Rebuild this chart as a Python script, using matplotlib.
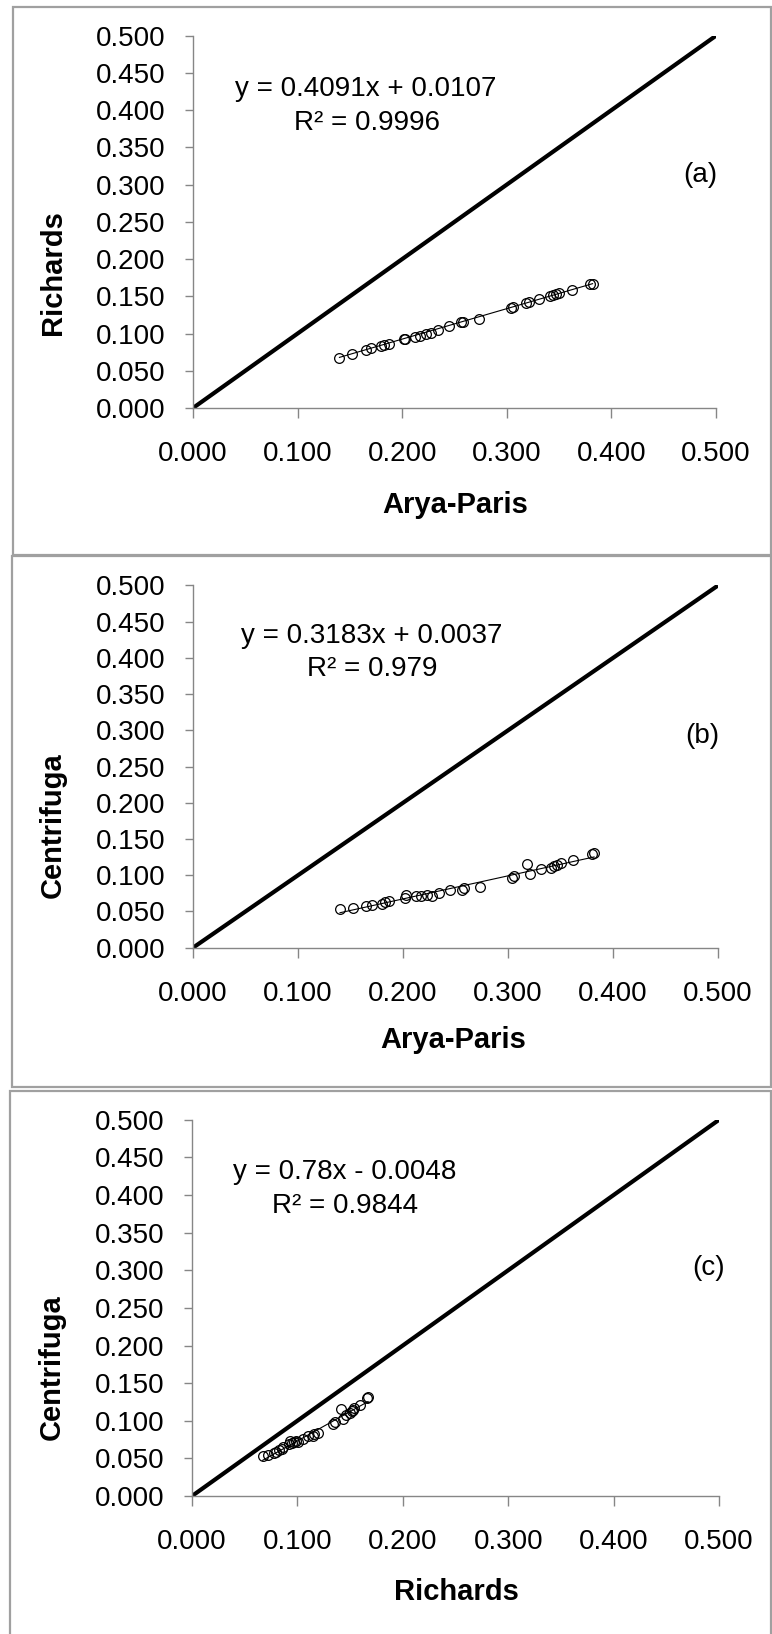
import matplotlib
matplotlib.use('Agg')
import matplotlib.pyplot as plt
from matplotlib.patches import Rectangle
import numpy as np

plt.rcParams['font.family'] = ['Liberation Sans', 'DejaVu Sans']

# values (same samples in every panel)
arya_paris = [0.140, 0.152, 0.165, 0.170, 0.180, 0.183, 0.187, 0.202, 0.203, 0.212,
              0.217, 0.223, 0.228, 0.234, 0.245, 0.256, 0.258, 0.273, 0.304, 0.306,
              0.318, 0.321, 0.331, 0.341, 0.344, 0.347, 0.350, 0.362, 0.380, 0.382]
richards = [0.067, 0.072, 0.078, 0.080, 0.083, 0.085, 0.086, 0.092, 0.093, 0.095,
            0.097, 0.099, 0.101, 0.105, 0.110, 0.115, 0.116, 0.120, 0.134, 0.136,
            0.141, 0.143, 0.146, 0.150, 0.152, 0.153, 0.154, 0.159, 0.166, 0.167]
centrifuga = [0.053, 0.055, 0.057, 0.059, 0.061, 0.063, 0.065, 0.069, 0.073, 0.071,
              0.072, 0.073, 0.072, 0.076, 0.080, 0.080, 0.082, 0.084, 0.096, 0.099,
              0.116, 0.102, 0.108, 0.110, 0.113, 0.114, 0.117, 0.121, 0.130, 0.131]

ticks = [0.0, 0.05, 0.1, 0.15, 0.2, 0.25, 0.3, 0.35, 0.4, 0.45, 0.5]
xticks = [0.0, 0.1, 0.2, 0.3, 0.4, 0.5]

# slope, intercept, r2 of the trendlines
fits = [(0.4091, 0.0107, '0.9996'), (0.3183, 0.0037, '0.979'), (0.78, -0.0048, '0.9844')]
eq_texts = ['y = 0.4091x + 0.0107', 'y = 0.3183x + 0.0037', 'y = 0.78x - 0.0048']

W, H = 772, 1634
fig = plt.figure(figsize=(W / 100, H / 100), dpi=100)

def fx(px):
    return px / W

def fy(py):
    return 1 - py / H

# panel frames (pixel coords: left, top, right, bottom)
frames = [(13, 7, 771, 555), (12, 556, 771, 1087), (10, 1091, 771, 1640)]
for l, t, r, b in frames:
    fig.patches.append(Rectangle((fx(l), fy(b)), fx(r - l), fy(t) - fy(b),
                                 transform=fig.transFigure, fill=False,
                                 edgecolor='#a0a0a0', linewidth=1.6))

def panel(ax_box, x, y, fit, eq, tag, xlabel, ylabel, pos):
    l, t, r, b = ax_box
    ax = fig.add_axes([fx(l), fy(b), fx(r - l), fy(t) - fy(b)])
    ax.plot([0, 0.5], [0, 0.5], color='black', linewidth=3.0, solid_capstyle='butt')
    slope, icpt, r2 = fit
    xs = np.array([min(x), max(x)])
    ax.plot(xs, slope * xs + icpt, color='black', linewidth=0.8)
    ax.plot(x, y, 'o', markerfacecolor='none', markeredgecolor='black',
            markersize=7, markeredgewidth=0.9)
    ax.set_xlim(0, 0.5)
    ax.set_ylim(0, 0.5)
    ax.set_xticks(xticks)
    ax.set_yticks(ticks)
    ax.set_xticklabels(['%.3f' % v for v in xticks])
    ax.set_yticklabels(['%.3f' % v for v in ticks])
    for s in ['top', 'right']:
        ax.spines[s].set_visible(False)
    for s in ['left', 'bottom']:
        ax.spines[s].set_color('#868686')
        ax.spines[s].set_linewidth(1.0)
    ax.tick_params(axis='y', direction='out', length=6, width=1, color='#868686',
                   labelsize=20, pad=14)
    ax.tick_params(axis='x', direction='out', length=7, width=1, color='#868686',
                   labelsize=20, pad=17)
    ax.patch.set_alpha(0)
    # texts
    eq_xy, r2_xy, tag_xy, xl_xy, yl_xy = pos
    fig.text(fx(eq_xy[0]), fy(eq_xy[1]), eq, fontsize=20, ha='center', va='center')
    fig.text(fx(r2_xy[0]), fy(r2_xy[1]), 'R² = ' + r2, fontsize=20, ha='center', va='center')
    fig.text(fx(tag_xy[0]), fy(tag_xy[1]), tag, fontsize=20, ha='center', va='center')
    fig.text(fx(xl_xy[0]), fy(xl_xy[1]), xlabel, fontsize=21, fontweight='bold',
             ha='center', va='center')
    fig.text(fx(yl_xy[0]), fy(yl_xy[1]), ylabel, fontsize=21, fontweight='bold',
             ha='center', va='center', rotation=90)
    return ax

panel((193, 35.7, 716, 408), arya_paris, richards, fits[0], eq_texts[0], '(a)',
      'Arya-Paris', 'Richards',
      [(366, 89), (367, 123), (700, 175), (455, 505), (53, 273)])
panel((193, 585.5, 718, 947.7), arya_paris, centrifuga, fits[1], eq_texts[1], '(b)',
      'Arya-Paris', 'Centrifuga',
      [(372, 636), (372, 669), (702, 736), (453, 1040), (53, 825)])
panel((192, 1119.8, 719, 1496), richards, centrifuga, fits[2], eq_texts[2], '(c)',
      'Richards', 'Centrifuga',
      [(345, 1172), (345, 1206), (709, 1268), (456, 1592), (52, 1367)])

fig.savefig('out.png', dpi=100)
